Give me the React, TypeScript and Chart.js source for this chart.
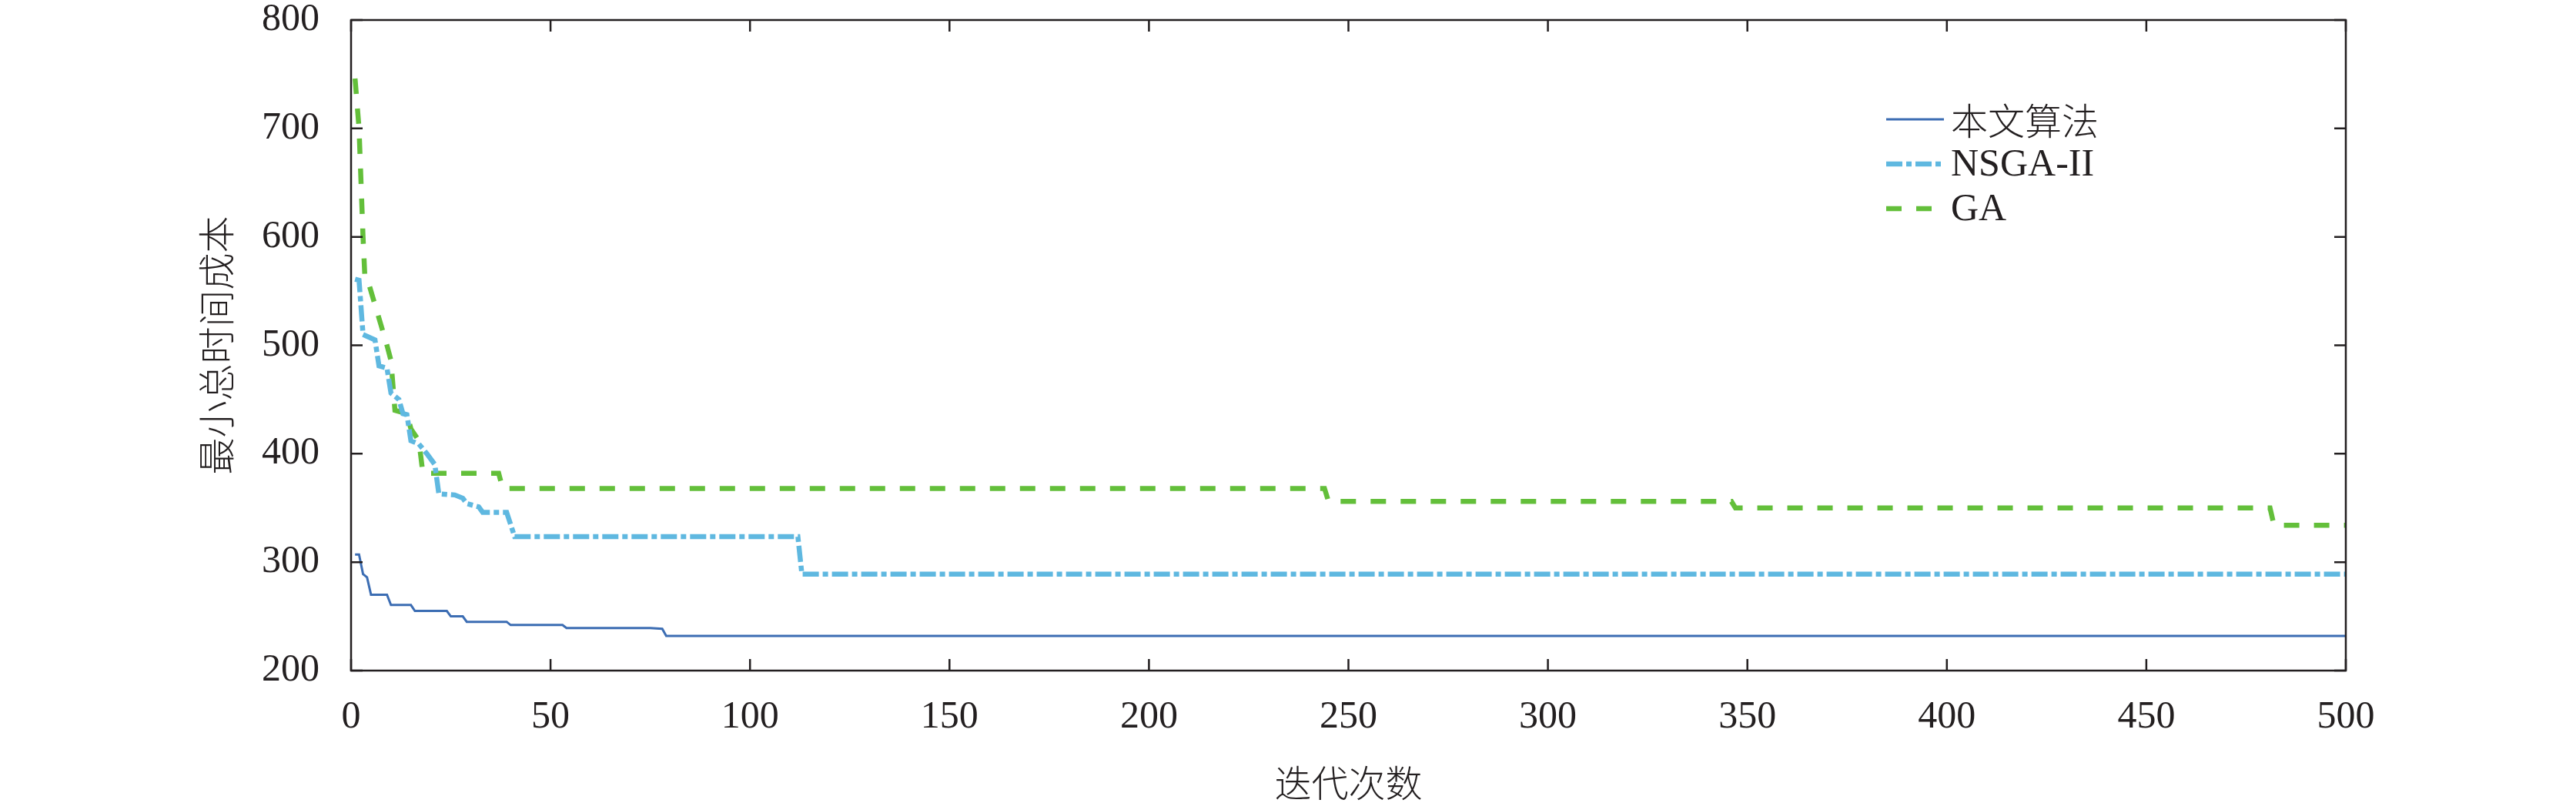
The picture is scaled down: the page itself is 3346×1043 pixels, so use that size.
import React, { useEffect, useRef } from 'react';
import { Chart, registerables } from 'chart.js';

Chart.register(...registerables);

// ---------- data ----------
const seriesNames = ['本文算法', 'NSGA-II', 'GA'];

const oursIter = [1, 2, 3, 4, 5, 9, 10, 15, 16, 24, 25, 28, 29, 39, 40, 53, 54, 75, 78, 79, 500];
const oursCost = [307, 307, 289, 286, 270, 270, 260.5, 260.5, 255, 255, 250, 250, 245, 245, 242, 242, 239.3, 239.3, 238.5, 232, 232];

const nsgaIter = [1, 2, 3, 6, 7, 9, 10, 11, 12, 13, 14, 15, 17, 19, 21, 22, 26, 28, 29, 32, 33, 39, 41, 112, 113, 500];
const nsgaCost = [561, 560, 510, 505, 481, 479, 456, 453, 450, 437, 436, 412, 409, 400, 390, 363, 362, 359, 354, 351, 346, 346, 323.5, 323.5, 289, 289];

const gaIter = [1, 2, 3, 3.5, 4.5, 9, 10, 11, 14, 15, 17, 18, 37, 38, 244, 245, 346, 347, 481, 482, 500];
const gaCost = [746, 700, 600, 560, 556, 500, 486, 440, 437, 423, 412, 382, 382, 368, 368, 356, 356, 350, 350, 334, 334];

const xMin = 0;
const xMax = 500;
const xStep = 50;
const yMin = 200;
const yMax = 800;
const yStep = 100;

const xTitle = '迭代次数';
const yTitle = '最小总时间成本';

// ---------- styles ----------
const W = 3346;
const H = 1043;
const TEXT = '#231f20';
const FONT = "'Liberation Serif', 'Times New Roman', 'Noto Sans CJK SC', serif";
const CJK_FONT = "'Noto Sans CJK SC', 'Liberation Serif', sans-serif";

const colors = ['#3c6db3', '#5fb8e0', '#63bf3a'];
const widths = [3, 6.5, 6.5];
const dashes: number[][] = [[], [21, 5, 7, 5], [20, 19]];

const toPoints = (xs: number[], ys: number[]) => xs.map((x, i) => ({ x, y: ys[i] }));

const framePlugin = {
  id: 'matlabFrame',
  afterDatasetsDraw(chart: any) {
    const { ctx, chartArea } = chart;
    const { left, right, top, bottom } = chartArea;
    const xs = chart.scales.x;
    const ys = chart.scales.y;
    const T = 15;
    ctx.save();
    ctx.strokeStyle = TEXT;
    ctx.lineWidth = 2.5;
    ctx.setLineDash([]);
    ctx.strokeRect(left, top, right - left, bottom - top);
    ctx.beginPath();
    xs.ticks.forEach((t: any) => {
      const px = xs.getPixelForValue(t.value);
      ctx.moveTo(px, bottom);
      ctx.lineTo(px, bottom - T);
      ctx.moveTo(px, top);
      ctx.lineTo(px, top + T);
    });
    ys.ticks.forEach((t: any) => {
      const py = ys.getPixelForValue(t.value);
      ctx.moveTo(left, py);
      ctx.lineTo(left + T, py);
      ctx.moveTo(right, py);
      ctx.lineTo(right - T, py);
    });
    ctx.stroke();
    ctx.restore();
  },
};

const legendPlugin = {
  id: 'insideLegend',
  afterDraw(chart: any) {
    const { ctx, chartArea } = chart;
    const x0 = chartArea.left + 1994;
    const y0 = chartArea.top + 129;
    const rowH = 58;
    const lineLen = 75;
    ctx.save();
    chart.data.datasets.forEach((ds: any, i: number) => {
      const y = y0 + i * rowH;
      ctx.beginPath();
      ctx.strokeStyle = ds.borderColor;
      ctx.lineWidth = ds.borderWidth;
      ctx.lineCap = 'butt';
      ctx.setLineDash(ds.borderDash || []);
      ctx.moveTo(x0, y);
      ctx.lineTo(x0 + lineLen, y);
      ctx.stroke();
      ctx.setLineDash([]);
      ctx.fillStyle = TEXT;
      ctx.textAlign = 'left';
      ctx.textBaseline = 'middle';
      const isCjk = /[\u4e00-\u9fff]/.test(ds.label);
      ctx.font = isCjk ? `300 48px ${CJK_FONT}` : `50px ${FONT}`;
      ctx.fillText(ds.label, x0 + lineLen + 9, y + 2);
    });
    ctx.restore();
  },
};

export default function App() {
  const ref = useRef<HTMLCanvasElement | null>(null);

  useEffect(() => {
    if (!ref.current) return;
    const series = [
      toPoints(oursIter, oursCost),
      toPoints(nsgaIter, nsgaCost),
      toPoints(gaIter, gaCost),
    ];
    const chart = new Chart(ref.current, {
      type: 'line',
      data: {
        datasets: series.map((pts, i) => ({
          label: seriesNames[i],
          data: pts,
          borderColor: colors[i],
          backgroundColor: colors[i],
          borderWidth: widths[i],
          borderDash: dashes[i],
          borderCapStyle: 'butt',
          borderJoinStyle: 'miter',
          pointRadius: 0,
          pointHoverRadius: 0,
          tension: 0,
          fill: false,
        })),
      },
      options: {
        animation: false,
        responsive: false,
        devicePixelRatio: 1,
        events: [],
        layout: { padding: { left: 0, right: 299, top: 26, bottom: 0 } },
        plugins: {
          legend: { display: false },
          tooltip: { enabled: false },
          title: { display: false },
        },
        scales: {
          x: {
            type: 'linear',
            min: xMin,
            max: xMax,
            grid: { display: false, drawTicks: false },
            border: { display: false },
            ticks: {
              stepSize: xStep,
              autoSkip: false,
              maxRotation: 0,
              padding: 31,
              color: TEXT,
              font: { family: FONT, size: 50, lineHeight: 1.2 },
            },
            title: {
              display: true,
              text: xTitle,
              color: TEXT,
              padding: { top: 0, bottom: 0 },
              font: { family: CJK_FONT, size: 48, lineHeight: 1.1, weight: '300' },
            },
            afterFit: (s: any) => {
              s.height = 172;
              s.paddingLeft = 0;
              s.paddingRight = 0;
            },
          },
          y: {
            type: 'linear',
            min: yMin,
            max: yMax,
            grid: { display: false, drawTicks: false },
            border: { display: false },
            ticks: {
              stepSize: yStep,
              padding: 41,
              color: TEXT,
              font: { family: FONT, size: 50, lineHeight: 1.0 },
            },
            title: {
              display: true,
              text: yTitle,
              color: TEXT,
              padding: { top: 254, bottom: 0 },
              font: { family: CJK_FONT, size: 48, lineHeight: 1.1, weight: '300' },
            },
            afterFit: (s: any) => {
              s.width = 456;
              s.paddingTop = 0;
              s.paddingBottom = 0;
            },
          },
        },
      },
      plugins: [framePlugin, legendPlugin],
    } as any);
    return () => chart.destroy();
  }, []);

  return (
    <div style={{ position: 'absolute', left: 0, top: 0, width: W, height: H, background: '#ffffff' }}>
      <canvas ref={ref} width={W} height={H} style={{ display: 'block', width: W, height: H }} />
    </div>
  );
}
